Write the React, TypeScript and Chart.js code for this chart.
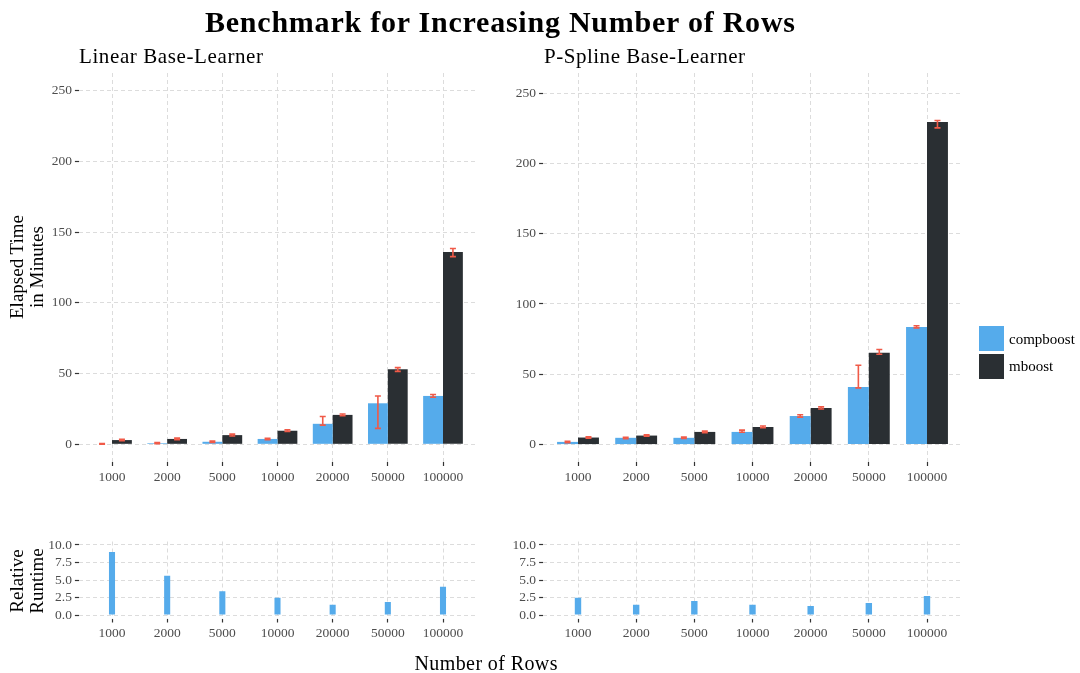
import { useEffect, useRef } from "react";
import { Chart, registerables } from "chart.js";

Chart.register(...registerables);

// Number of rows per benchmark setting
const ROWS = ["1000", "2000", "5000", "10000", "20000", "50000", "100000"];

// Linear base-learner: elapsed minutes (mean, lower, upper)
const LIN_COMP = [0.35, 0.8, 1.8, 3.8, 14.5, 29.0, 34.2];
const LIN_COMP_LO = [0.1, 0.5, 1.4, 3.3, 13.6, 11.3, 33.3];
const LIN_COMP_HI = [0.6, 1.2, 2.3, 4.3, 19.7, 34.2, 35.2];
const LIN_MBOOST = [3.0, 3.8, 6.5, 9.6, 20.8, 53.0, 135.9];
const LIN_MBOOST_LO = [2.6, 3.3, 5.9, 9.1, 20.2, 51.6, 132.7];
const LIN_MBOOST_HI = [3.5, 4.4, 7.2, 10.3, 21.4, 54.2, 138.4];

// P-spline base-learner: elapsed minutes (mean, lower, upper)
const PS_COMP = [1.9, 4.8, 4.8, 9.0, 20.3, 41.0, 83.7];
const PS_COMP_LO = [1.4, 4.2, 4.3, 8.8, 19.5, 40.3, 83.0];
const PS_COMP_HI = [2.4, 5.2, 5.3, 10.3, 21.2, 56.4, 84.5];
const PS_MBOOST = [5.0, 6.4, 9.0, 12.5, 26.0, 65.3, 229.5];
const PS_MBOOST_LO = [4.5, 5.9, 8.5, 12.0, 25.3, 64.2, 225.3];
const PS_MBOOST_HI = [5.6, 7.0, 9.6, 13.2, 26.8, 67.6, 230.5];

// Relative runtime (mboost / compboost)
const LIN_RELATIVE = [9.0, 5.6, 3.4, 2.45, 1.45, 1.85, 4.05];
const PS_RELATIVE = [2.45, 1.45, 2.0, 1.45, 1.3, 1.7, 2.7];

const ELAPSED_TICKS = [0, 50, 100, 150, 200, 250];
const RELATIVE_TICKS = [0, 2.5, 5, 7.5, 10];

const SERIES = ["compboost", "mboost"];

const BLUE = "#55ABEB";
const DARK = "#2A2F33";
const ERR = "#F05A48";
const GRID = "#DCDCDC";
const TICK = "#333333";
const TICK_TEXT = "#4D4D4D";
const FONT = "'Liberation Serif', 'Times New Roman', serif";

type Box = { left: number; top: number; right: number; bottom: number };
type Series = { label: string; values: number[]; lo?: number[]; hi?: number[]; color: string };

const errorBarPlugin = {
  id: "errorBars",
  afterDatasetsDraw(chart: any) {
    const { ctx } = chart;
    const yScale = chart.scales.y;
    chart.data.datasets.forEach((ds: any, i: number) => {
      if (!ds.errLo || !ds.errHi) return;
      const meta = chart.getDatasetMeta(i);
      meta.data.forEach((bar: any, j: number) => {
        const x = bar.x;
        const yl = yScale.getPixelForValue(ds.errLo[j]);
        const yh = yScale.getPixelForValue(ds.errHi[j]);
        ctx.save();
        ctx.strokeStyle = ERR;
        ctx.lineWidth = 1.6;
        ctx.beginPath();
        ctx.moveTo(x, yl);
        ctx.lineTo(x, yh);
        ctx.moveTo(x - 3, yl);
        ctx.lineTo(x + 3, yl);
        ctx.moveTo(x - 3, yh);
        ctx.lineTo(x + 3, yh);
        ctx.stroke();
        ctx.restore();
      });
    });
  },
};

function Panel(props: {
  canvas: Box;
  plot: Box;
  series: Series[];
  yMin: number;
  yMax: number;
  yTicks: number[];
  yFormat: (v: number) => string;
  share: number;
}) {
  const { canvas, plot, series, yMin, yMax, yTicks, yFormat, share } = props;
  const ref = useRef<HTMLCanvasElement>(null);
  const w = canvas.right - canvas.left;
  const h = canvas.bottom - canvas.top;

  useEffect(() => {
    const tickFont = { family: FONT, size: 13.5 };
    const grid = {
      color: GRID,
      lineWidth: 1,
      offset: false,
      tickColor: TICK,
      tickLength: 4,
      tickWidth: 1.2,
      tickBorderDash: [],
    };
    const chart = new Chart(ref.current as HTMLCanvasElement, {
      type: "bar",
      data: {
        datasets: series.map((s) => ({
          label: s.label,
          data: s.values.map((v, i) => ({ x: i, y: v })),
          backgroundColor: s.color,
          borderWidth: 0,
          categoryPercentage: share,
          barPercentage: 1,
          errLo: s.lo,
          errHi: s.hi,
        })) as any,
      },
      options: {
        responsive: false,
        animation: false,
        devicePixelRatio: 1,
        layout: {
          padding: {
            top: plot.top - canvas.top,
            right: canvas.right - plot.right,
            left: 0,
            bottom: 0,
          },
        },
        plugins: {
          legend: { display: false },
          tooltip: { enabled: false },
        },
        scales: {
          x: {
            type: "linear",
            min: -0.6,
            max: ROWS.length - 0.4,
            offset: false,
            afterBuildTicks: (s: any) => {
              s.ticks = ROWS.map((_, i) => ({ value: i }));
            },
            afterFit: (s: any) => {
              s.height = canvas.bottom - plot.bottom;
            },
            grid,
            border: { display: false, dash: [4, 3] },
            ticks: {
              callback: (v: any) => ROWS[v],
              font: tickFont,
              color: TICK_TEXT,
              padding: 3,
              maxRotation: 0,
              autoSkip: false,
            },
          },
          y: {
            type: "linear",
            min: yMin,
            max: yMax,
            afterBuildTicks: (s: any) => {
              s.ticks = yTicks.map((v) => ({ value: v }));
            },
            afterFit: (s: any) => {
              s.width = plot.left - canvas.left;
            },
            grid,
            border: { display: false, dash: [4, 3] },
            ticks: {
              callback: (v: any) => yFormat(v),
              font: tickFont,
              color: TICK_TEXT,
              padding: 3,
              autoSkip: false,
            },
          },
        } as any,
      },
      plugins: [errorBarPlugin],
    });
    return () => chart.destroy();
  }, []);

  return (
    <canvas
      ref={ref}
      width={w}
      height={h}
      style={{ position: "absolute", left: canvas.left, top: canvas.top, width: w, height: h }}
    />
  );
}

const LEFT_X = { left: 78.9, right: 476.1 };
const RIGHT_X = { left: 543.1, right: 961.9 };
const TOP_Y = { top: 73, bottom: 462 };
const BOTTOM_Y = { top: 541.5, bottom: 618.5 };

export default function App() {
  const elapsedFmt = (v: number) => String(v);
  const relativeFmt = (v: number) => v.toFixed(1);

  return (
    <div
      style={{
        position: "absolute",
        left: 0,
        top: 0,
        width: 1080,
        height: 673,
        background: "#ffffff",
        overflow: "hidden",
      }}
    >
      <Panel
        canvas={{ left: 30, top: 50, right: 490, bottom: 490 }}
        plot={{ ...LEFT_X, ...TOP_Y }}
        series={[
          { label: SERIES[0], values: LIN_COMP, lo: LIN_COMP_LO, hi: LIN_COMP_HI, color: BLUE },
          { label: SERIES[1], values: LIN_MBOOST, lo: LIN_MBOOST_LO, hi: LIN_MBOOST_HI, color: DARK },
        ]}
        yMin={-12.5}
        yMax={262.5}
        yTicks={ELAPSED_TICKS}
        yFormat={elapsedFmt}
        share={0.72}
      />
      <Panel
        canvas={{ left: 495, top: 50, right: 970, bottom: 490 }}
        plot={{ ...RIGHT_X, ...TOP_Y }}
        series={[
          { label: SERIES[0], values: PS_COMP, lo: PS_COMP_LO, hi: PS_COMP_HI, color: BLUE },
          { label: SERIES[1], values: PS_MBOOST, lo: PS_MBOOST_LO, hi: PS_MBOOST_HI, color: DARK },
        ]}
        yMin={-12.4}
        yMax={264.3}
        yTicks={ELAPSED_TICKS}
        yFormat={elapsedFmt}
        share={0.72}
      />
      <Panel
        canvas={{ left: 30, top: 515, right: 490, bottom: 648 }}
        plot={{ ...LEFT_X, ...BOTTOM_Y }}
        series={[{ label: SERIES[0], values: LIN_RELATIVE, color: BLUE }]}
        yMin={-0.5}
        yMax={10.5}
        yTicks={RELATIVE_TICKS}
        yFormat={relativeFmt}
        share={0.11}
      />
      <Panel
        canvas={{ left: 495, top: 515, right: 970, bottom: 648 }}
        plot={{ ...RIGHT_X, ...BOTTOM_Y }}
        series={[{ label: SERIES[0], values: PS_RELATIVE, color: BLUE }]}
        yMin={-0.5}
        yMax={10.5}
        yTicks={RELATIVE_TICKS}
        yFormat={relativeFmt}
        share={0.11}
      />
      <svg
        width={1080}
        height={673}
        style={{ position: "absolute", left: 0, top: 0, pointerEvents: "none" }}
        fontFamily={FONT}
      >
        <text x={500} y={32} textAnchor="middle" fontSize={30} fontWeight="bold" textLength={590} lengthAdjust="spacing" fill="#000">
          Benchmark for Increasing Number of Rows
        </text>
        <text x={79} y={63} fontSize={21} textLength={184} lengthAdjust="spacing" fill="#000">
          Linear Base-Learner
        </text>
        <text x={544} y={63} fontSize={21} textLength={201} lengthAdjust="spacing" fill="#000">
          P-Spline Base-Learner
        </text>
        <text transform="translate(23.3,267) rotate(-90)" textAnchor="middle" fontSize={19} fill="#000">
          Elapsed Time
        </text>
        <text transform="translate(42.5,267) rotate(-90)" textAnchor="middle" fontSize={19} fill="#000">
          in Minutes
        </text>
        <text transform="translate(23.3,581) rotate(-90)" textAnchor="middle" fontSize={19} fill="#000">
          Relative
        </text>
        <text transform="translate(42.5,581) rotate(-90)" textAnchor="middle" fontSize={19} fill="#000">
          Runtime
        </text>
        <text x={486} y={670} textAnchor="middle" fontSize={20} textLength={143} lengthAdjust="spacing" fill="#000">
          Number of Rows
        </text>
        <rect x={979} y={326} width={25} height={25} fill={BLUE} />
        <rect x={979} y={354} width={25} height={25} fill={DARK} />
        <text x={1009} y={344} fontSize={15} fill="#000">
          {SERIES[0]}
        </text>
        <text x={1009} y={371} fontSize={15} fill="#000">
          {SERIES[1]}
        </text>
      </svg>
    </div>
  );
}
